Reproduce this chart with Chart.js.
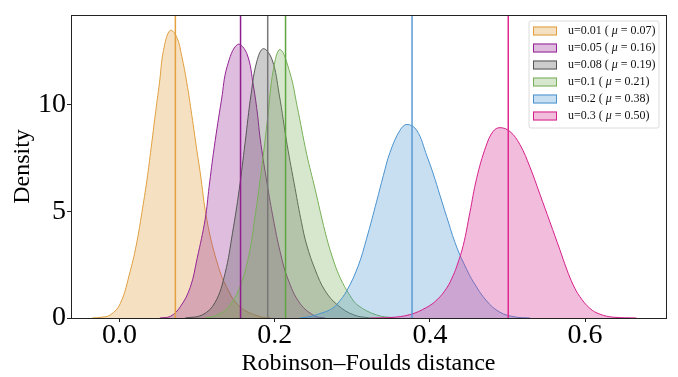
<!DOCTYPE html>
<html>
<head>
<meta charset="utf-8">
<script src="https://cdn.jsdelivr.net/npm/chart.js@4.4.1/dist/chart.umd.min.js"></script>
<style>
html,body{margin:0;padding:0;background:#fff;}
canvas{display:block;}
</style>
</head>
<body>
<canvas id="c" width="678" height="377"></canvas>
<script>
// ---------- data ----------
const uLabels = ['0.01', '0.05', '0.08', '0.1', '0.2', '0.3'];
const meanLabels = ['0.07', '0.16', '0.19', '0.21', '0.38', '0.50'];
const meanValues = [0.072, 0.156, 0.191, 0.214, 0.377, 0.501];

const xTicks = [0, 0.2, 0.4, 0.6];
const xTickLabels = ['0.0', '0.2', '0.4', '0.6'];
const yTicks = [0, 5, 10];
const yTickLabels = ['0', '5', '10'];

// density curves (x = Robinson–Foulds distance, y = density)
const x_u001 = [-0.035, -0.0249, -0.0120, 0.0009, 0.0138, 0.0224, 0.0288, 0.0353, 0.0408, 0.0460, 0.0515, 0.0567, 0.0653, 0.0739, 0.0804, 0.0868, 0.0932, 0.0997, 0.1039, 0.1126, 0.1254, 0.1383, 0.1554, 0.1811, 0.195];
const y_u001 = [0, 0.03, 0.14, 0.67, 2.19, 3.56, 4.93, 6.45, 7.98, 9.50, 11.02, 12.54, 13.48, 13.15, 12.24, 11.02, 9.50, 7.85, 6.85, 4.60, 2.65, 1.43, 0.52, 0.06, 0];

const x_u005 = [0.0520, 0.0653, 0.0782, 0.0911, 0.1001, 0.1104, 0.1155, 0.1220, 0.1316, 0.1387, 0.1522, 0.1641, 0.1726, 0.1780, 0.1812, 0.1902, 0.1983, 0.2070, 0.2166, 0.2327, 0.2520, 0.2649];
const y_u005 = [0, 0.07, 0.52, 1.43, 2.80, 4.63, 6.15, 7.98, 10.26, 11.78, 12.82, 12.39, 10.87, 9.50, 8.43, 6.30, 4.63, 3.11, 1.87, 0.68, 0.09, 0];

const x_u008 = [0.0846, 0.1065, 0.1232, 0.1361, 0.1458, 0.1542, 0.1619, 0.1696, 0.1769, 0.1854, 0.1967, 0.2057, 0.2160, 0.2263, 0.2346, 0.2413, 0.2520, 0.2649, 0.2816, 0.3022, 0.3229];
const y_u008 = [0, 0.14, 0.73, 2.10, 4.02, 6.00, 8.22, 10.50, 12.01, 12.62, 12.10, 10.50, 8.13, 6.07, 4.47, 3.42, 2.28, 1.28, 0.59, 0.14, 0];

const x_u01 = [0.1104, 0.1258, 0.1400, 0.1542, 0.1664, 0.1748, 0.1834, 0.1909, 0.1983, 0.2070, 0.2198, 0.2288, 0.2413, 0.2520, 0.2649, 0.2739, 0.2842, 0.2971, 0.3074, 0.3315, 0.3551];
const y_u01 = [0, 0.14, 0.50, 1.37, 2.88, 4.79, 7.08, 9.36, 11.64, 12.58, 11.47, 9.95, 7.67, 6.05, 4.05, 2.90, 1.90, 1.05, 0.59, 0.14, 0];

const x_u02 = [0.2327, 0.2456, 0.2585, 0.2720, 0.2804, 0.2929, 0.3074, 0.3186, 0.3315, 0.3400, 0.3486, 0.3615, 0.3705, 0.3830, 0.3963, 0.4044, 0.4130, 0.4216, 0.4345, 0.4474, 0.4559, 0.4731, 0.4903, 0.5096, 0.5289];
const y_u02 = [0, 0.07, 0.21, 0.40, 0.65, 1.28, 2.42, 3.74, 5.48, 6.67, 7.76, 8.80, 9.07, 8.80, 7.58, 6.75, 5.75, 4.75, 3.33, 2.28, 1.70, 0.80, 0.27, 0.05, 0];

const x_u03 = [0.3229, 0.3486, 0.3744, 0.3959, 0.4091, 0.4216, 0.4301, 0.4349, 0.4430, 0.4516, 0.4603, 0.4722, 0.4816, 0.4903, 0.5032, 0.5160, 0.5289, 0.5418, 0.5547, 0.5675, 0.5762, 0.5847, 0.5933, 0.6062, 0.6191, 0.6358, 0.6663];
const y_u03 = [0, 0.02, 0.16, 0.50, 0.85, 1.40, 2.00, 2.45, 3.40, 4.95, 6.55, 8.04, 8.75, 8.92, 8.74, 8.13, 7.08, 5.80, 4.50, 3.20, 2.30, 1.55, 1.00, 0.45, 0.18, 0.04, 0];

const seriesX = [x_u001, x_u005, x_u008, x_u01, x_u02, x_u03];
const seriesY = [y_u001, y_u005, y_u008, y_u01, y_u02, y_u03];

// ---------- styles ----------
const lineColors = ['#E0A040', '#932393', '#555555', '#78B058', '#4A93CF', '#D4208A'];
const vlineColors = ['#E5A13F', '#8E1E8E', '#777777', '#5FA640', '#5B9BD5', '#E0288F'];
const fillColors = ['rgba(224,160,64,0.32)', 'rgba(147,35,147,0.3)', 'rgba(85,85,85,0.3)', 'rgba(120,176,88,0.3)', 'rgba(74,147,207,0.3)', 'rgba(212,32,138,0.3)'];
const X_MIN = -0.0625, X_MAX = 0.7043, Y_MIN = 0, Y_MAX = 14.2;
const SERIF = "'Liberation Serif', 'Times New Roman', serif";

const datasets = [];
seriesX.forEach((xs, i) => {
  datasets.push({
    label: 'u=' + uLabels[i],
    data: xs.map((x, j) => ({ x: x, y: seriesY[i][j] })),
    borderColor: lineColors[i],
    backgroundColor: fillColors[i],
    borderWidth: 1,
    pointRadius: 0,
    fill: 'origin',
    tension: 0.4,
    order: 20 - i
  });
});
meanValues.forEach((m, i) => {
  datasets.push({
    label: 'mean ' + uLabels[i],
    data: [{ x: m, y: Y_MIN }, { x: m, y: Y_MAX }],
    borderColor: vlineColors[i],
    borderWidth: 1.5,
    pointRadius: 0,
    fill: false,
    tension: 0,
    order: 6 - i
  });
});

const framePlugin = {
  id: 'frame',
  afterDatasetsDraw(chart) {
    const { ctx, chartArea: a } = chart;
    ctx.save();
    ctx.strokeStyle = '#222';
    ctx.lineWidth = 1;
    ctx.strokeRect(Math.round(a.left) + 0.5, Math.round(a.top) + 0.5, Math.round(a.right - a.left), Math.round(a.bottom - a.top));
    ctx.restore();
  }
};

const legendPlugin = {
  id: 'customLegend',
  afterDraw(chart) {
    const { ctx, chartArea: a } = chart;
    const w = 130, h = 107;
    const x0 = a.right - 7 - w, y0 = a.top + 6;
    ctx.save();
    ctx.beginPath();
    const r = 2;
    ctx.moveTo(x0 + r, y0);
    ctx.arcTo(x0 + w, y0, x0 + w, y0 + h, r);
    ctx.arcTo(x0 + w, y0 + h, x0, y0 + h, r);
    ctx.arcTo(x0, y0 + h, x0, y0, r);
    ctx.arcTo(x0, y0, x0 + w, y0, r);
    ctx.closePath();
    ctx.fillStyle = 'rgba(255,255,255,0.8)';
    ctx.fill();
    ctx.strokeStyle = '#dcdcdc';
    ctx.lineWidth = 1;
    ctx.stroke();
    for (let i = 0; i < uLabels.length; i++) {
      const cy = y0 + 10 + i * 17;
      ctx.fillStyle = fillColors[i];
      ctx.fillRect(x0 + 4, cy - 4.5, 24, 9);
      ctx.strokeStyle = lineColors[i];
      ctx.lineWidth = 1;
      ctx.strokeRect(x0 + 4.5, cy - 4, 23, 8);
      ctx.fillStyle = '#111';
      ctx.textBaseline = 'middle';
      ctx.textAlign = 'left';
      let tx = x0 + 39;
      const p1 = 'u=' + uLabels[i] + ' ( ';
      ctx.font = '12px ' + SERIF;
      ctx.fillText(p1, tx, cy);
      tx += ctx.measureText(p1).width;
      ctx.font = 'italic 12px ' + SERIF;
      ctx.fillText('\u03BC', tx, cy);
      tx += ctx.measureText('\u03BC').width;
      const p3 = ' = ' + meanLabels[i] + ')';
      ctx.font = '12px ' + SERIF;
      ctx.fillText(p3, tx, cy);
    }
    ctx.restore();
  }
};

new Chart(document.getElementById('c'), {
  type: 'line',
  data: { datasets: datasets },
  plugins: [framePlugin, legendPlugin],
  options: {
    responsive: false,
    animation: false,
    devicePixelRatio: 1,
    layout: { padding: { top: 7, right: 12, left: 0, bottom: 0 } },
    plugins: { legend: { display: false }, tooltip: { enabled: false } },
    scales: {
      x: {
        type: 'linear',
        min: X_MIN, max: X_MAX,
        afterBuildTicks: s => { s.ticks = xTicks.map(v => ({ value: v })); },
        afterFit: s => { s.height = 59; },
        grid: { display: true, drawOnChartArea: false, drawTicks: true, tickLength: 4, color: '#222', tickWidth: 1 },
        border: { display: true, color: '#222', width: 1 },
        ticks: {
          autoSkip: false, maxRotation: 0, minRotation: 0,
          font: { family: SERIF, size: 28, lineHeight: 1 },
          color: '#000', padding: 0,
          callback: (v, idx) => xTickLabels[idx]
        },
        title: {
          display: true, text: 'Robinson\u2013Foulds distance', color: '#000',
          font: { family: SERIF, size: 24, lineHeight: 1 },
          padding: { top: 0, bottom: 1 }
        }
      },
      y: {
        type: 'linear',
        min: Y_MIN, max: Y_MAX,
        afterBuildTicks: s => { s.ticks = yTicks.map(v => ({ value: v })); },
        afterFit: s => { s.width = 71; },
        grid: { display: true, drawOnChartArea: false, drawTicks: true, tickLength: 4, color: '#222', tickWidth: 1 },
        border: { display: true, color: '#222', width: 1 },
        ticks: {
          font: { family: SERIF, size: 28, lineHeight: 1 },
          color: '#000', padding: 1,
          callback: (v, idx) => yTickLabels[idx]
        },
        title: {
          display: true, text: 'Density', color: '#000',
          font: { family: SERIF, size: 24, lineHeight: 1 },
          padding: { top: 11, bottom: 0 }
        }
      }
    }
  }
});
</script>
</body>
</html>
